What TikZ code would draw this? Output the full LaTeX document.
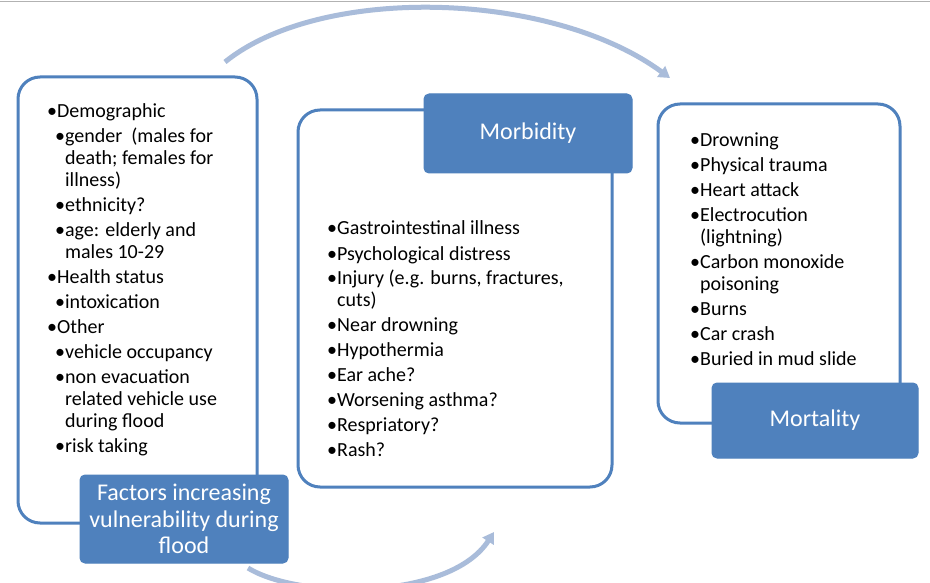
\documentclass[tikz,border=0pt]{standalone}
\usepackage{fontspec}
\setmainfont{Carlito}
\usetikzlibrary{arrows.meta}
\definecolor{obl}{HTML}{4F81BD}
\definecolor{arccol}{HTML}{A9BCDA}
\newcommand{\bl}{\textbullet}
\newcommand{\sub}{\hspace*{8pt}}
\newcommand{\cont}{\hspace*{8pt}\phantom{\textbullet}}
\newcommand{\topcont}{\phantom{\textbullet}}
\begin{document}
\begin{tikzpicture}[x=1pt,y=-1pt,
  outline/.style={draw=obl,line width=3pt,rounded corners=22pt,fill=white},
  lab/.style={fill=obl,draw=obl,line width=1pt,rounded corners=5pt,text=white,align=center,
    font=\fontsize{24}{26.5}\selectfont,inner sep=0pt},
  body/.style={anchor=base west,inner sep=0pt,font=\fontsize{20}{22}\selectfont},
  cyc/.style={draw=arccol,line width=5pt,-{Triangle[width=13pt,length=11pt]}}]
\useasboundingbox (0,0) rectangle (930,583);
\clip (0,0) rectangle (930,583);
\fill[white] (0,0) rectangle (930,583);
\draw[gray!60,line width=1.5pt] (0,1.5) -- (930,1.5);

% cycle arrows
\coordinate (t1) at (225,62);
\coordinate (t2) at (670,78);
\coordinate (b1) at (248,568);
\coordinate (b2) at (494,532);
\draw[cyc] (t1) .. controls (320,-15) and (550,-10) .. (t2);
\draw[cyc] (b1) .. controls (300,600) and (450,600) .. (b2);

% outlines
\draw[outline] (18,77) rectangle (257,523);
\draw[outline] (298,110) rectangle (612,487);
\draw[outline] (658,104) rectangle (900,423);

% body texts
\node[body] (leftbody) at (47,118) {\parbox[t]{210pt}{%
\bl Demographic\\[3pt]
\sub\bl gender~ (males for\\
\cont death; females for\\
\cont illness)\\[3pt]
\sub\bl ethnicity?\\[3pt]
\sub\bl age: elderly and\\
\cont males 10-29\\[3pt]
\bl Health status\\[3pt]
\sub\bl intoxication\\[3pt]
\bl Other\\[3pt]
\sub\bl vehicle occupancy\\[3pt]
\sub\bl non evacuation\\
\cont related vehicle use\\
\cont during flood\\[3pt]
\sub\bl risk taking}};

\node[body] (midbody) at (327,235) {\parbox[t]{280pt}{%
\bl Gastrointestinal illness\\[3pt]
\bl Psychological distress\\[3pt]
\bl Injury (e.g. burns, fractures,\\
\topcont cuts)\\[3pt]
\bl Near drowning\\[3pt]
\bl Hypothermia\\[3pt]
\bl Ear ache?\\[3pt]
\bl Worsening asthma?\\[3pt]
\bl Respriatory?\\[3pt]
\bl Rash?}};

\node[body] (rightbody) at (690,147) {\parbox[t]{205pt}{%
\bl Drowning\\[3pt]
\bl Physical trauma\\[3pt]
\bl Heart attack\\[3pt]
\bl Electrocution\\
\topcont (lightning)\\[3pt]
\bl Carbon monoxide\\
\topcont poisoning\\[3pt]
\bl Burns\\[3pt]
\bl Car crash\\[3pt]
\bl Buried in mud slide}};

% labels
\node[lab,minimum width=208pt,minimum height=88pt] (factors) at (184,519)
  {Factors increasing\\vulnerability during\\flood};
\node[lab,minimum width=208pt,minimum height=79pt] (morb) at (528,133.5) {Morbidity};
\node[lab,minimum width=206pt,minimum height=75pt] (mort) at (815,420.5) {Mortality};
\end{tikzpicture}
\end{document}
